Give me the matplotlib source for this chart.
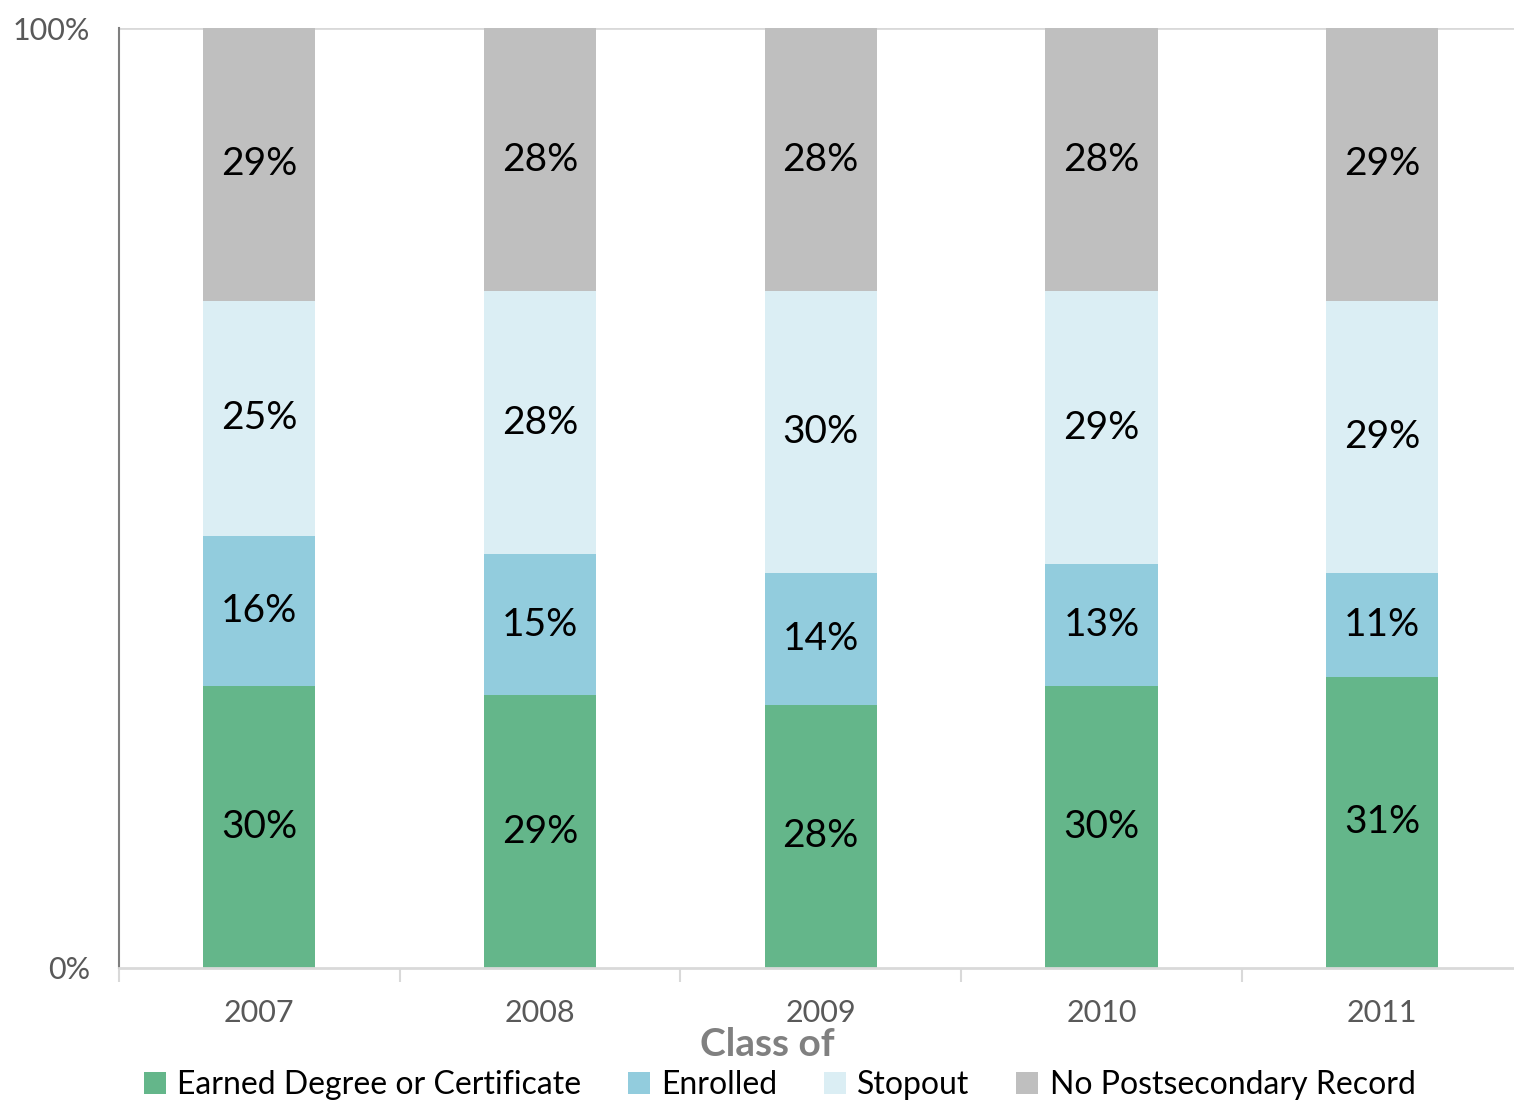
import numpy as np
import matplotlib
matplotlib.use('Agg')
import matplotlib.pyplot as plt
from matplotlib.patches import Patch

plt.rcParams['font.family'] = ['Lato', 'DejaVu Sans']

years = ['2007', '2008', '2009', '2010', '2011']
series = ['Earned Degree or Certificate', 'Enrolled', 'Stopout', 'No Postsecondary Record']
earned = [30, 29, 28, 30, 31]
enrolled = [16, 15, 14, 13, 11]
stopout = [25, 28, 30, 29, 29]
no_record = [29, 28, 28, 28, 29]
colors = ['#64B68A', '#92CCDD', '#DBEEF4', '#BFBFBF']

fig = plt.figure(figsize=(15.14, 11.04), dpi=100)
ax = fig.add_axes([0.0786, 0.1232, 0.927, 0.8514])

x = np.arange(len(years))
bottom = np.zeros(len(years))
for vals, col in zip([earned, enrolled, stopout, no_record], colors):
    vals = np.array(vals, dtype=float)
    ax.bar(x, vals, 0.4, bottom=bottom, color=col, edgecolor='none')
    for xi, b, v in zip(x, bottom, vals):
        ax.text(xi, b + v / 2, '%d%%' % v, ha='center', va='center',
                fontsize=28, color='black')
    bottom += vals

ax.set_xlim(-0.5, len(years) - 0.5)
ax.set_ylim(0, 100)
ax.set_yticks([0, 100])
ax.set_yticklabels(['0%', '100%'], fontsize=22, color='#595959')
ax.tick_params(axis='y', length=0, pad=21)
ax.axhline(100, color='#D9D9D9', lw=2, zorder=0)

ax.set_xticks(x)
ax.set_xticklabels(years, fontsize=22, color='#595959')
ax.set_xticks(np.arange(len(years) + 1) - 0.5, minor=True)
ax.tick_params(axis='x', which='major', length=0, pad=22)
ax.tick_params(axis='x', which='minor', length=10, width=1.5, color='#D9D9D9')

for s in ['top', 'right']:
    ax.spines[s].set_visible(False)
ax.spines['left'].set_color('#7F7F7F')
ax.spines['left'].set_linewidth(1.5)
ax.spines['bottom'].set_color('#D9D9D9')
ax.spines['bottom'].set_linewidth(2)

fig.text(0.507, 0.054, 'Class of', ha='center', va='center',
         fontsize=28, fontweight='bold', color='#808080')

handles = [Patch(facecolor=c, edgecolor='none') for c in colors]
fig.legend(handles, series, loc='center', bbox_to_anchor=(0.515, 0.017),
           ncol=4, frameon=False, fontsize=23, handlelength=0.7,
           handleheight=0.7, handletextpad=0.35, columnspacing=1.45)

fig.savefig('out.png', dpi=100)
plt.close(fig)
